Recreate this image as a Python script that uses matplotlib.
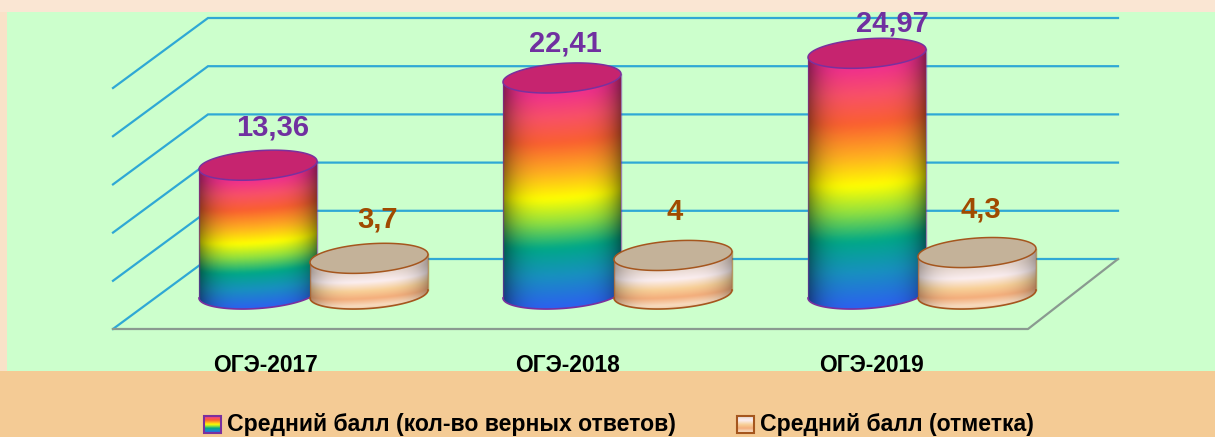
import numpy as np
import matplotlib
matplotlib.use("Agg")
import matplotlib.pyplot as plt
from matplotlib.colors import LinearSegmentedColormap, ListedColormap
from matplotlib.patches import Polygon, Rectangle

categories = ["ОГЭ-2017", "ОГЭ-2018", "ОГЭ-2019"]
series_names = ["Средний балл (кол-во верных ответов)", "Средний балл (отметка)"]
correct_answers = [13.36, 22.41, 24.97]
grade = [3.7, 4.0, 4.3]
grid_values = [0, 5, 10, 15, 20, 25]

W, H = 1215, 437
SC = 9.64       # px per value unit
BASE = 294.0    # pixel row of value 0 at cylinder centres
A, TILT, B = 59.0, 4.0, 14.5
FONT = ["Liberation Sans", "DejaVu Sans"]

def v(px):
    return (BASE - px) / SC

def smooth_cmap(name, stops, width=31):
    base = LinearSegmentedColormap.from_list(name, stops)
    lut = base(np.linspace(0, 1, 512))[:, :3]
    pad = width
    padded = np.r_[np.repeat(lut[:1], pad, axis=0), lut, np.repeat(lut[-1:], pad, axis=0)]
    kernel = np.hanning(width + 2)[1:-1]
    kernel = kernel / kernel.sum()
    out = np.stack([np.convolve(padded[:, c], kernel, mode="same") for c in range(3)], axis=1)
    return ListedColormap(out[pad:-pad])

fig = plt.figure(figsize=(W / 100, H / 100), dpi=100, facecolor="#F4CB95")
ax = fig.add_axes([0, 0, 1, 1])
ax.axis("off")

# background
ax.add_patch(Rectangle((0, v(12)), W, v(0) - v(12), fc="#FAE6D3", ec="none", zorder=0))
ax.add_patch(Rectangle((0, v(371)), 7, v(12) - v(371), fc="#F9E2C8", ec="none", zorder=0))
ax.add_patch(Rectangle((7, v(371)), W - 7, v(12) - v(371), fc="#CCFFCC", ec="none", zorder=0.5))

# walls
BLUE = "#2FA8D5"
back_zero, left_zero = 259.0, 329.0
for g in grid_values:
    yb = v(back_zero) + g
    yl = v(left_zero) + g
    ax.plot([113, 208, 1118], [yl, yb, yb], color=BLUE, lw=1.6, zorder=1, solid_joinstyle="miter")
ax.plot([113, 1028, 1118], [v(329), v(329), v(259)], color="#8A9A90", lw=1.6, zorder=1.1)

rainbow = smooth_cmap("rb", [
    (0.00, "#F0308C"), (0.11, "#F85068"), (0.23, "#FA6030"), (0.37, "#FFB020"),
    (0.49, "#FFFF00"), (0.60, "#90E040"), (0.72, "#00A888"), (0.85, "#1890C0"), (1.0, "#2C60F0")])
sandy = smooth_cmap("sd", [
    (0.0, "#E8D8D0"), (0.25, "#FBEEF0"), (0.50, "#F8D098"), (0.72, "#F4AE7C"), (0.92, "#F8DCC0"), (1.0, "#EBC9A6")])

def cylinder(cx, val, cmap, top_color, edge, shade_amt, z):
    top_px = BASE - val * SC
    ts = np.linspace(0, 2 * np.pi, 181)
    ex = cx + A * np.cos(ts)
    ey_off = (TILT * np.cos(ts) - B * np.sin(ts)) / SC   # value units, up positive
    front = np.linspace(np.pi, 0, 91)
    px = cx + A * np.cos(front)
    py = (TILT * np.cos(front) - B * np.sin(front)) / SC
    # body outline: bottom-front arc, then up and along the top-front arc
    body_x = np.r_[px, px[::-1]]
    body_y = np.r_[py, (val + py)[::-1]]
    verts = np.c_[body_x, body_y]

    xs = np.linspace(cx - A, cx + A, 240)
    ys_px = np.arange(top_px - 20, BASE + 22, 0.5)
    u = (xs - cx) / A
    front_curve = -TILT * u + 0.45 * B * np.sqrt(np.clip(1 - u ** 2, 0, 1)) + 0.55 * B
    s = (ys_px[:, None] - (top_px + front_curve)[None, :]) / (val * SC)
    rgb = cmap(np.clip(s, 0, 1))[:, :, :3]
    shade = 1 - shade_amt * np.abs(u) ** 4
    rgb = rgb * shade[None, :, None]
    im = ax.imshow(rgb, extent=(cx - A, cx + A, v(ys_px[-1]), v(ys_px[0])), origin="upper",
                   aspect="auto", interpolation="bilinear", zorder=z)
    clip = Polygon(verts, closed=True, transform=ax.transData, fc="none", ec="none")
    ax.add_patch(clip)
    im.set_clip_path(clip)
    ax.plot(body_x[:91], body_y[:91], color=edge, lw=1.2, zorder=z + 0.01)
    ax.plot([cx - A, cx - A], [py[0], val + py[0]], color=edge, lw=1.0, alpha=0.6, zorder=z + 0.01)
    ax.plot([cx + A, cx + A], [py[-1], val + py[-1]], color=edge, lw=1.0, alpha=0.6, zorder=z + 0.01)
    ax.add_patch(Polygon(np.c_[ex, val + ey_off], closed=True, fc=top_color, ec=edge, lw=1.1, zorder=z + 0.02))

centres_a = [258, 562, 867]
centres_b = [369, 673, 977]
for i in range(3):
    cylinder(centres_a[i], correct_answers[i], rainbow, "#C6246F", "#7A309E", 0.45, 3 + i)
    cylinder(centres_b[i], grade[i], sandy, "#C4B299", "#A5561E", 0.3, 3.5 + i)

# labels
bold = dict(fontfamily=FONT, fontweight="bold", ha="center", va="center")
pos_a = [(273, 128), (565, 43), (892, 24)]
pos_b = [(378, 219), (675, 212), (981, 209)]
for val, (x, y) in zip(correct_answers, pos_a):
    ax.text(x, v(y), f"{val:.2f}".replace(".", ","), color="#7030A0", fontsize=21, zorder=10, **bold)
for val, (x, y) in zip(grade, pos_b):
    ax.text(x, v(y), f"{val:g}".replace(".", ","), color="#A04A00", fontsize=21, zorder=10, **bold)
for c, x in zip(categories, [265, 568, 871]):
    ax.text(x, v(365), c, color="black", fontsize=16.4, zorder=10, **bold)

# legend
grad = np.linspace(0, 1, 50)[:, None]
ax.imshow(rainbow(grad)[:, :, :3], extent=(204, 221, v(433), v(416)), origin="upper", aspect="auto", zorder=9)
ax.add_patch(Rectangle((204, v(433)), 17, v(416) - v(433), fc="none", ec="#7A309E", lw=1.5, zorder=9.5))
ax.imshow(sandy(grad)[:, :, :3], extent=(737, 754, v(433), v(416)), origin="upper", aspect="auto", zorder=9)
ax.add_patch(Rectangle((737, v(433)), 17, v(416) - v(433), fc="none", ec="#A5561E", lw=1.5, zorder=9.5))
leg = dict(fontfamily=FONT, fontweight="bold", ha="left", va="center", color="black", zorder=10, fontsize=16.55)
ax.text(227, v(425), series_names[0], **leg)
ax.text(760, v(425), series_names[1], **leg)

ax.set_xlim(0, W)
ax.set_ylim(v(H), v(0))
fig.savefig("out.png", dpi=100, facecolor=fig.get_facecolor())
